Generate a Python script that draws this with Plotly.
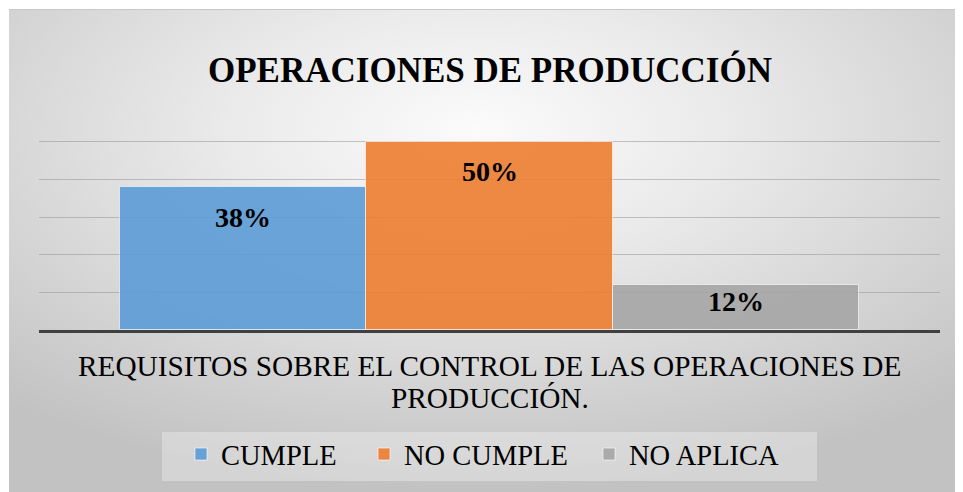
import base64
import plotly.graph_objects as go

# ---- data ----
categories = ["CUMPLE", "NO CUMPLE", "NO APLICA"]
values = [38, 50, 12]
labels = ["38%", "50%", "12%"]
colors = ["rgba(91,155,213,0.9)", "rgba(237,125,49,0.9)", "rgba(165,165,165,0.9)"]
title_text = "OPERACIONES DE PRODUCCIÓN"
axis_title_lines = ["REQUISITOS SOBRE EL CONTROL DE LAS OPERACIONES DE", "PRODUCCIÓN."]

OFF = 8  # page body margin
W, H = 963 - OFF, 492 - OFF
ML, MR, MT, MB = 39 - OFF, 963 - 940, 104 - OFF, 492 - 330
PW, PH = W - ML - MR, H - MT - MB
BASE = MT + PH  # pixel y of baseline in figure coords


def py(page_y):
    """page pixel y -> paper y"""
    return (BASE - (page_y - OFF)) / PH


def px(page_x):
    """page pixel x -> paper x"""
    return (page_x - OFF - ML) / PW


SERIF = "Liberation Serif"

legend_names = ["legend", "legend2", "legend3"]
legend_left = [181, 364, 589]  # page px of each legend entry

fig = go.Figure()
for c, v, col, lg in zip(categories, values, colors, legend_names):
    fig.add_trace(go.Bar(
        x=[c], y=[v], name=c, legend=lg,
        marker=dict(color=col, line=dict(color="rgba(255,255,255,0.6)", width=1)),
        hoverinfo="skip",
    ))

# data labels (inside end of each bar)
for i, (v, lab) in enumerate(zip(values, labels)):
    fig.add_annotation(x=i, y=v - min(8, v * 0.38), text=f"<b>{lab}</b>", showarrow=False,
                       font=dict(family=SERIF, size=28, color="black"),
                       xref="x", yref="y")

# axis title lines
for j, line in enumerate(axis_title_lines):
    fig.add_annotation(x=0.5, y=py(366 + 32 * j), text=line, showarrow=False,
                       xref="paper", yref="paper", xanchor="center", yanchor="middle",
                       font=dict(family=SERIF, size=29.3, color="black"))

# chart title
fig.add_annotation(x=0.5, y=py(70), text=f"<b>{title_text}</b>", showarrow=False,
                   xref="paper", yref="paper", xanchor="center", yanchor="middle",
                   font=dict(family=SERIF, size=35, color="black"))

# radial gradient background (whole chart area)
bx0, by0 = 1, 1
bw, bh = W - bx0, H - by0
svg = f'''<svg xmlns="http://www.w3.org/2000/svg" width="{bw}" height="{bh}" viewBox="0 0 {bw} {bh}" preserveAspectRatio="none">
<defs><radialGradient id="g" cx="0.49" cy="0.25" r="0.75" gradientUnits="objectBoundingBox">
<stop offset="0" stop-color="#fbfbfb"/><stop offset="0.35" stop-color="#eaeaea"/><stop offset="1" stop-color="#c2c2c2"/>
</radialGradient></defs>
<rect x="0" y="0" width="{bw}" height="{bh}" fill="url(#g)"/>
<rect x="0" y="0" width="{bw}" height="1" fill="#c8c8c8"/>
</svg>'''
src = "data:image/svg+xml;base64," + base64.b64encode(svg.encode()).decode()
fig.add_layout_image(dict(source=src, xref="paper", yref="paper",
                          x=(bx0 - ML) / PW, y=(BASE - by0) / PH,
                          sizex=bw / PW, sizey=bh / PH, sizing="stretch",
                          xanchor="left", yanchor="top", layer="below"))

# legend background box
fig.add_shape(type="rect", xref="paper", yref="paper",
              x0=px(162), x1=px(817), y0=py(481), y1=py(432),
              fillcolor="rgba(255,255,255,0.3)", line=dict(width=0), layer="below")

legend_common = dict(orientation="h", xanchor="left", yanchor="top", y=py(429),
                     font=dict(family=SERIF, size=28.5, color="black"),
                     bgcolor="rgba(0,0,0,0)", borderwidth=0, itemwidth=30)

fig.update_layout(
    width=W, height=H,
    margin=dict(l=ML, r=MR, t=MT, b=MB, pad=0),
    paper_bgcolor="white", plot_bgcolor="rgba(0,0,0,0)",
    barmode="overlay", bargap=0,
    showlegend=True,
    legend=dict(x=px(legend_left[0]), **legend_common),
    legend2=dict(x=px(legend_left[1]), **legend_common),
    legend3=dict(x=px(legend_left[2]), **legend_common),
    xaxis=dict(type="category", range=[-0.8276, 2.8276], showticklabels=False, ticks="",
               showgrid=False, showline=True, linecolor="#404040", linewidth=3, zeroline=False,
               fixedrange=True),
    yaxis=dict(range=[0, 60], dtick=10, showticklabels=False, ticks="", showgrid=True,
               gridcolor="rgba(150,150,150,0.55)", gridwidth=1, zeroline=False, showline=False,
               fixedrange=True),
    font=dict(family=SERIF),
)

fig.write_html("out.html")
